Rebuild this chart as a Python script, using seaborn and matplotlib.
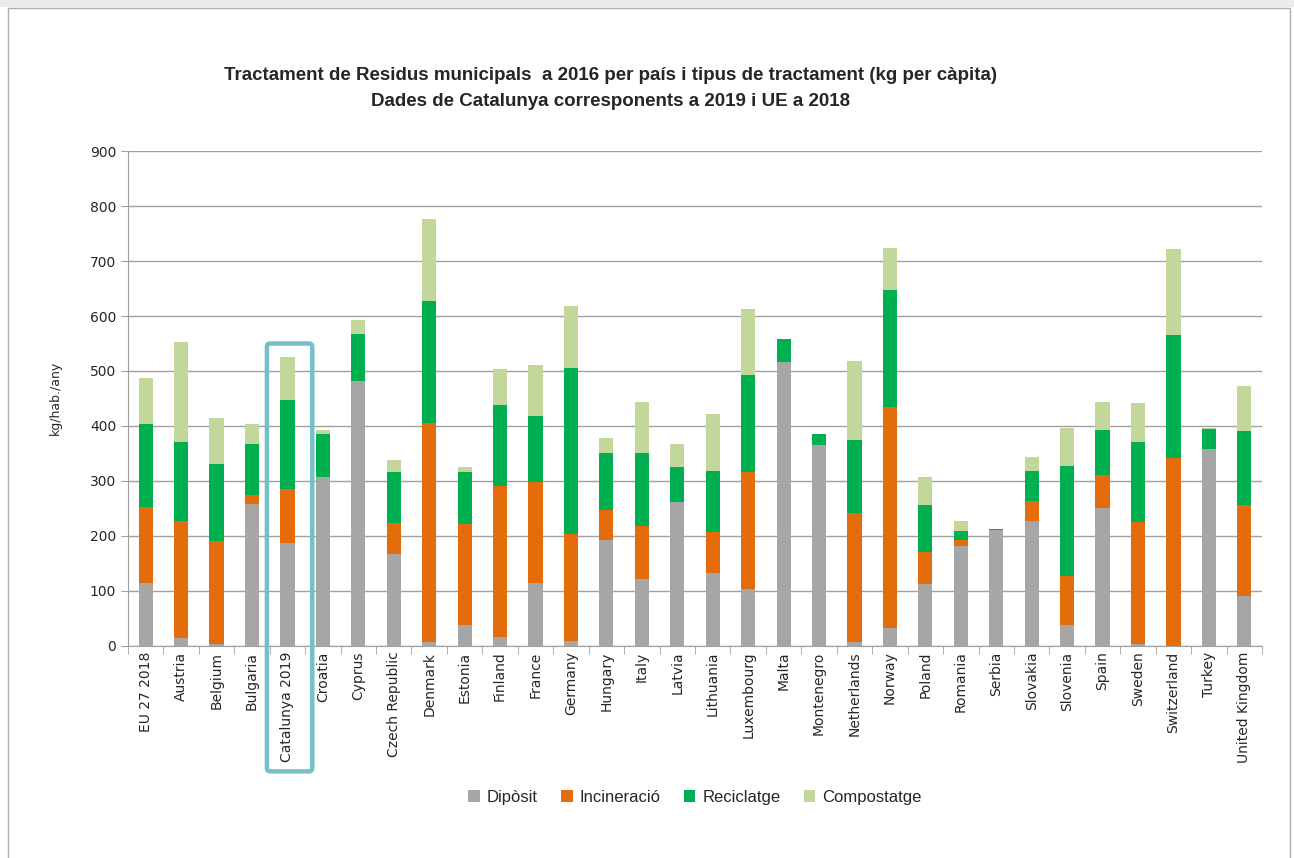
import pandas as pd
import numpy as np
import matplotlib.pyplot as plt
import seaborn as sns
from matplotlib.patches import Rectangle, FancyBboxPatch, Patch

countries = ['EU 27 2018', 'Austria', 'Belgium', 'Bulgaria', 'Catalunya 2019', 'Croatia', 'Cyprus',
             'Czech Republic', 'Denmark', 'Estonia', 'Finland', 'France', 'Germany', 'Hungary', 'Italy',
             'Latvia', 'Lithuania', 'Luxembourg', 'Malta', 'Montenegro', 'Netherlands', 'Norway',
             'Poland', 'Romania', 'Serbia', 'Slovakia', 'Slovenia', 'Spain', 'Sweden', 'Switzerland',
             'Turkey', 'United Kingdom']
diposit = [114, 15, 3, 259, 187, 308, 481, 168, 8, 38, 16, 114, 9, 192, 122, 262, 132, 104, 516, 365,
           8, 32, 112, 181, 210, 227, 38, 251, 3, 0, 359, 91]
incineracio = [139, 212, 188, 16, 99, 0, 0, 56, 397, 183, 275, 184, 194, 56, 97, 0, 76, 212, 0, 0,
               234, 403, 59, 11, 0, 37, 90, 59, 222, 342, 0, 165]
reciclatge = [150, 144, 140, 92, 161, 77, 86, 92, 222, 96, 148, 120, 302, 102, 131, 63, 110, 177, 43, 20,
              132, 212, 85, 17, 2, 54, 199, 82, 145, 224, 36, 135]
compostatge = [85, 182, 84, 37, 78, 8, 25, 23, 150, 9, 64, 92, 114, 29, 94, 42, 104, 120, 0, 0,
               144, 77, 51, 18, 0, 25, 69, 51, 72, 155, 2, 81]

series = ['Dipòsit', 'Incineració', 'Reciclatge', 'Compostatge']
colors = ['#A6A6A6', '#E46C0A', '#00B050', '#C4D79B']

df = pd.DataFrame({'Country': countries, 'Dipòsit': diposit, 'Incineració': incineracio,
                   'Reciclatge': reciclatge, 'Compostatge': compostatge})
cum = df[series].cumsum(axis=1)

sns.set_style("white")
plt.rcParams['font.family'] = ['DejaVu Sans']

fig = plt.figure(figsize=(12.94, 8.58), dpi=100)
ax = fig.add_axes([0.0989, 0.2471, 0.8764, 0.5769])

# stacked bars: draw cumulative totals from top layer down
for s, c in zip(reversed(series), reversed(colors)):
    sns.barplot(x=df['Country'], y=cum[s], color=c, width=0.4, ax=ax,
                saturation=1, edgecolor='none', zorder=3)

ax.set_ylim(0, 900)
ax.set_xlim(-0.5, len(countries) - 0.5)
ax.set_yticks(range(0, 901, 100))
ax.yaxis.grid(True, color='#A0A0A0', linewidth=1, zorder=0)
ax.set_axisbelow(True)
for sp in ['top', 'right']:
    ax.spines[sp].set_visible(False)
ax.spines['left'].set_color('#A0A0A0')
ax.spines['bottom'].set_color('#A0A0A0')
ax.tick_params(axis='y', length=5, color='#A0A0A0', labelsize=10, left=True)
ax.tick_params(axis='x', length=0, labelsize=10, pad=4)
ax.set_xticks(range(len(countries)))
ax.set_xticklabels(countries, rotation=90)
ax.set_xticks(np.arange(-0.5, len(countries), 1), minor=True)
ax.tick_params(axis='x', which='minor', length=6, color='#A0A0A0', bottom=True)
ax.set_xlabel('')
ax.set_ylabel('')
fig.text(55 / 1294, 1 - 398 / 858, 'kg/hab./any', rotation=90, ha='center', va='center', fontsize=9)

# highlight box around Catalunya
box = FancyBboxPatch((3.42, -228), 1.28, 778, boxstyle='round,pad=0,rounding_size=0.1',
                     mutation_aspect=60, fill=False, edgecolor='#77BFC7', linewidth=3.2,
                     clip_on=False, zorder=5, transform=ax.transData)
ax.add_patch(box)

fig.text(0.472, 0.912, 'Tractament de Residus municipals  a 2016 per país i tipus de tractament (kg per càpita)',
         ha='center', va='center', fontsize=13.5, fontweight='bold', family='Liberation Sans')
fig.text(0.472, 0.882, 'Dades de Catalunya corresponents a 2019 i UE a 2018',
         ha='center', va='center', fontsize=13.5, fontweight='bold', family='Liberation Sans')

handles = [Patch(facecolor=c, edgecolor='none') for c in colors]
fig.legend(handles, series, loc='center', bbox_to_anchor=(0.537, 0.071), ncol=4, frameon=False,
           handlelength=0.7, handleheight=0.7, handletextpad=0.4, columnspacing=1.4,
           prop={'family': 'Liberation Sans', 'size': 12})

# page band and outer frame
fig.patches.append(Rectangle((0, 1 - 7 / 858), 1, 7 / 858, transform=fig.transFigure,
                             facecolor='#EBEBEB', edgecolor='none'))
fig.patches.append(Rectangle((8 / 1294, -0.01), 1282 / 1294, 1 - 8 / 858 + 0.01, transform=fig.transFigure,
                             fill=False, edgecolor='#B0B0B0', linewidth=1))

fig.savefig('out.png', dpi=100)
plt.close()
